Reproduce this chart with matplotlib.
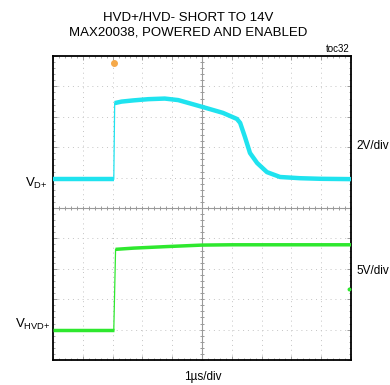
import matplotlib
matplotlib.use("Agg")
import matplotlib.pyplot as plt
import numpy as np

plt.rcParams['font.family'] = ['Liberation Sans', 'DejaVu Sans']
plt.rcParams['mathtext.fontset'] = 'custom'
plt.rcParams['mathtext.rm'] = 'Liberation Sans'

# Time in divisions (1 us/div), voltages in screen divisions
vd_t = [0.0, 2.04, 2.07, 2.3, 2.7, 3.2, 3.75, 4.2, 4.6, 5.03, 5.7, 6.17, 6.28, 6.44, 6.61, 6.85,
        7.18, 7.62, 8.29, 9.0, 10.0]
vd_v = [5.95, 5.95, 8.45, 8.50, 8.54, 8.58, 8.60, 8.55, 8.44, 8.32, 8.13, 7.93, 7.80, 7.34, 6.81, 6.48,
        6.18, 6.02, 5.98, 5.96, 5.95]

hvd_t = [0.0, 2.04, 2.10, 2.7, 3.8, 5.0, 6.0, 8.0, 10.0]
hvd_v = [0.99, 0.99, 3.64, 3.68, 3.73, 3.78, 3.79, 3.79, 3.79]

trig_t = [2.05]
trig_v = [9.76]
stray_t = [9.92]
stray_v = [2.33]

title = "HVD+/HVD- SHORT TO 14V\nMAX20038, POWERED AND ENABLED"

fig = plt.figure(figsize=(3.9, 3.85), dpi=100)
ax = fig.add_axes([53/390, 25/385, 298/390, 304/385])
ax.set_xlim(0, 10)
ax.set_ylim(0, 10)

# grid
for k in range(1, 10):
    if k == 5:
        continue
    ax.axvline(k, color='#c4c4c4', lw=0.7, ls=(0, (1, 4)), zorder=1)
    ax.axhline(k, color='#c4c4c4', lw=0.7, ls=(0, (1, 4)), zorder=1)
ax.axvline(5, color='#9a9a9a', lw=0.8, zorder=1)
ax.axhline(5, color='#9a9a9a', lw=0.8, zorder=1)
minor = np.arange(0, 10.01, 0.2)
ax.plot(minor, np.full_like(minor, 5), ls='none', marker='|', ms=3, mew=0.7, color='#9a9a9a', zorder=1)
ax.plot(np.full_like(minor, 5), minor, ls='none', marker='_', ms=3, mew=0.7, color='#9a9a9a', zorder=1)

ax.set_xticks(np.arange(0, 11, 1))
ax.set_yticks(np.arange(0, 11, 1))
ax.set_xticks(minor, minor=True)
ax.set_yticks(minor, minor=True)
ax.tick_params(which='both', direction='in', top=True, right=True, labelbottom=False, labelleft=False,
               color='#9a9a9a')
ax.tick_params(which='major', length=3, width=0.7)
ax.tick_params(which='minor', length=1.5, width=0.6)
for s in ax.spines.values():
    s.set_linewidth(1.3)
    s.set_color('black')


def trace(t, v, color, lw_thick):
    t = np.asarray(t, float)
    v = np.asarray(v, float)
    slope = np.abs(np.diff(v) / np.diff(t))
    fast = slope > 20
    # thin fast edges
    for i in np.where(fast)[0]:
        ax.plot(t[i:i + 2], v[i:i + 2], color=color, lw=0.9, zorder=3)
    # thick slow runs
    start = 0
    for i in range(len(fast) + 1):
        if i == len(fast) or fast[i]:
            if i > start:
                ax.plot(t[start:i + 1], v[start:i + 1], color=color, lw=lw_thick,
                        solid_joinstyle='round', solid_capstyle='butt', zorder=3)
            start = i + 1


trace(vd_t, vd_v, '#1fe3ef', 3.2)
trace(hvd_t, hvd_v, '#2ee82e', 2.5)
ax.plot(trig_t, trig_v, ls='none', marker='o', ms=4, color='#f5a94a', zorder=4, clip_on=False)
ax.plot(stray_t, stray_v, ls='none', marker='o', ms=1.8, color='#2ee82e', zorder=4)

fig.text(188/390, 1 - 25/385, title, ha='center', va='center', fontsize=9.5, linespacing=1.3)
fig.text(350/390, 1 - 48.5/385, "toc32", ha='right', va='center', fontsize=7)
fig.text(356/390, 1 - 146/385, "2V/div", ha='left', va='center', fontsize=8.5)
fig.text(356/390, 1 - 271/385, "5V/div", ha='left', va='center', fontsize=8.5)
fig.text(203/390, 1 - 377/385, "1\u00b5s/div", ha='center', va='center', fontsize=8.5)
fig.text(48/390, 1 - 183/385, r"$\mathregular{V_{D{+}}}$", ha='right', va='center', fontsize=9.5)
fig.text(50/390, 1 - 324/385, r"$\mathregular{V_{HVD{+}}}$", ha='right', va='center', fontsize=9.5)

fig.savefig("out.png", dpi=100)
